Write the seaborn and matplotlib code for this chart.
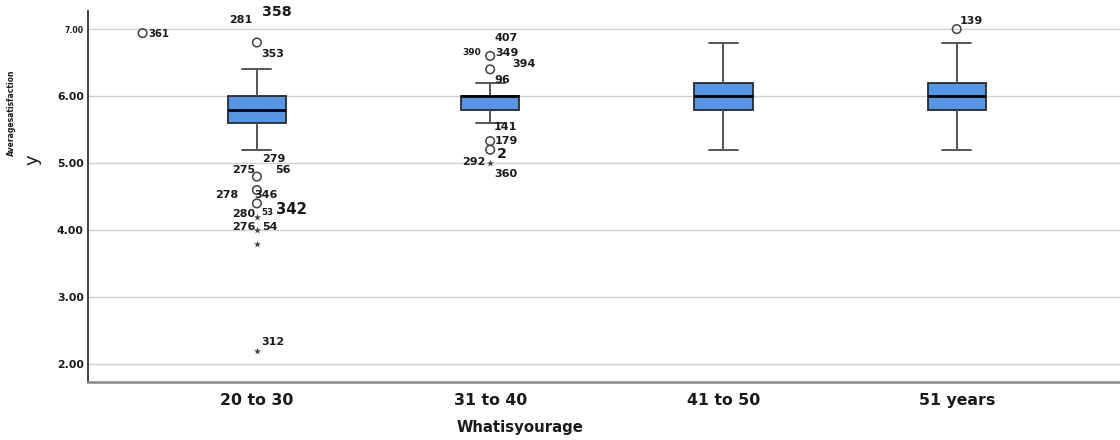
import matplotlib
matplotlib.use("Agg")
import matplotlib.pyplot as plt
import seaborn as sns
import pandas as pd

# ---------------- data ----------------
categories = ["20 to 30", "31 to 40", "41 to 50", "51 years"]
whisker_low = [5.2, 5.6, 5.2, 5.2]
q1 = [5.6, 5.8, 5.8, 5.8]
median = [5.8, 6.0, 6.0, 6.0]
q3 = [6.0, 6.0, 6.2, 6.2]
whisker_high = [6.4, 6.2, 6.8, 6.8]

# outliers: circles (mild) and stars (extreme)
circle_group = ["20 to 30", "20 to 30", "20 to 30", "20 to 30", "20 to 30",
                "31 to 40", "31 to 40", "31 to 40", "31 to 40", "51 years"]
circle_value = [6.94, 6.8, 4.8, 4.6, 4.4, 6.6, 6.4, 5.33, 5.2, 7.0]
star_group = ["20 to 30", "20 to 30", "20 to 30", "20 to 30", "31 to 40"]
star_value = [4.2, 4.0, 3.8, 2.2, 5.0]

# case labels: (text, group, dx, y, fontsize)
case_labels = [
    ("281", "20 to 30", -0.12, 7.14, 8), ("358", "20 to 30", 0.021, 7.26, 10.3),
    ("361", "20 to 30", -0.467, 6.93, 7.2), ("353", "20 to 30", 0.021, 6.63, 8),
    ("279", "20 to 30", 0.021, 5.06, 8), ("275", "20 to 30", -0.107, 4.90, 8),
    ("56", "20 to 30", 0.077, 4.90, 8), ("278", "20 to 30", -0.18, 4.53, 8),
    ("346", "20 to 30", -0.009, 4.53, 8), ("280", "20 to 30", -0.107, 4.24, 8),
    ("53", "20 to 30", 0.021, 4.26, 6.3), ("342", "20 to 30", 0.081, 4.31, 10.7),
    ("276", "20 to 30", -0.107, 4.05, 8), ("54", "20 to 30", 0.021, 4.05, 8),
    ("312", "20 to 30", 0.017, 2.34, 8),
    ("407", "31 to 40", 0.017, 6.87, 8), ("390", "31 to 40", -0.12, 6.65, 6.5),
    ("349", "31 to 40", 0.021, 6.65, 8), ("394", "31 to 40", 0.094, 6.48, 8),
    ("96", "31 to 40", 0.017, 6.24, 8), ("141", "31 to 40", 0.017, 5.54, 8),
    ("179", "31 to 40", 0.021, 5.33, 8), ("2", "31 to 40", 0.03, 5.14, 10.3),
    ("292", "31 to 40", -0.12, 5.02, 8), ("360", "31 to 40", 0.017, 4.84, 8),
    ("139", "51 years", 0.013, 7.12, 8),
]

x_title = "Whatisyourage"
y_title = "y"
y_title_small = "Averagesatisfaction"
yticks = [2.0, 3.0, 4.0, 5.0, 6.0, 7.0]

# ---------------- build a five-number table for seaborn ----------------
rows = []
for i, c in enumerate(categories):
    for v in (whisker_low[i], q1[i], median[i], q3[i], whisker_high[i]):
        rows.append({"age": c, "value": v})
df = pd.DataFrame(rows)

sns.set_theme(style="white")
plt.rcParams["font.family"] = ["DejaVu Sans"]

fig = plt.figure(figsize=(11.2, 4.4), dpi=100)
ax = fig.add_axes([88 / 1120, 58 / 440, 1 - 88 / 1120, (382 - 11) / 440])

box_fill = "#5596e6"
sns.boxplot(data=df, x="age", y="value", order=categories, ax=ax,
            whis=(0, 100), showfliers=False, width=0.25, saturation=1,
            color=box_fill, linecolor="#2a2a2a", linewidth=1.3,
            medianprops=dict(color="black", linewidth=2),
            whiskerprops=dict(color="#555555", linewidth=1.4),
            capprops=dict(color="#555555", linewidth=1.4))

pos = {c: i for i, c in enumerate(categories)}
special_dx = {("20 to 30", 6.94): -0.49}
cx = [pos[g] + special_dx.get((g, v), 0) for g, v in zip(circle_group, circle_value)]
ax.scatter(cx, circle_value, s=38, facecolors="none", edgecolors="#404040",
           linewidths=1.1, zorder=5, clip_on=False)
sx = [pos[g] for g in star_group]
ax.scatter(sx, star_value, s=28, marker="*", color="#404040", linewidths=0,
           zorder=5, clip_on=False)

for txt, g, dx, y, fs in case_labels:
    ax.text(pos[g] + dx, y, txt, ha="left", va="center", fontsize=fs,
            fontweight="bold", color="#1a1a1a", clip_on=False, zorder=6)

ax.set_xlim(-0.724, 3.70)
ax.set_ylim(1.736, 7.27)
ax.set_yticks(yticks)
ax.set_yticklabels([f"{t:.2f}" for t in yticks], fontweight="bold")
for lab in ax.get_yticklabels():
    lab.set_fontsize(7.8)
ax.get_yticklabels()[-1].set_fontsize(5.6)
ax.tick_params(axis="y", length=0, pad=3, colors="#1a1a1a")
ax.tick_params(axis="x", length=0, pad=8, labelsize=11.3, colors="#1a1a1a")
for lab in ax.get_xticklabels():
    lab.set_fontweight("bold")

ax.yaxis.grid(True, color="#d0d0d0", linewidth=1)
ax.set_axisbelow(True)

for s in ("top", "right"):
    ax.spines[s].set_visible(False)
ax.spines["left"].set_color("#333333")
ax.spines["left"].set_linewidth(1.3)
ax.spines["bottom"].set_color("#888888")
ax.spines["bottom"].set_linewidth(1.8)

ax.set_xlabel(x_title, fontsize=10.7, fontweight="bold", color="#1a1a1a")
ax.xaxis.set_label_coords((520 - 88) / 1032, -(420 - 382) / 371)
ax.set_ylabel("")
fig.text(33 / 1120, 1 - 160 / 440, y_title, rotation=90, fontsize=13,
         ha="center", va="center", color="#1a1a1a")
fig.text(11 / 1120, 1 - 113 / 440, y_title_small, rotation=90, fontsize=5.5,
         ha="center", va="center", color="#1a1a1a", fontweight="bold")

fig.savefig("out.png", dpi=100)
